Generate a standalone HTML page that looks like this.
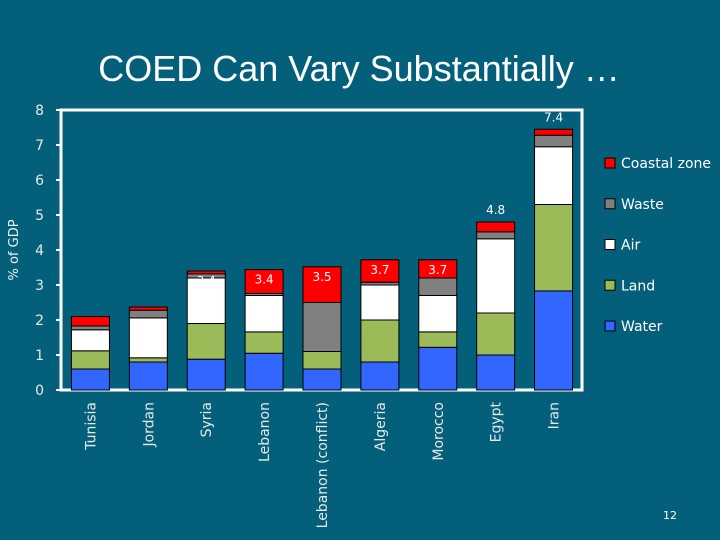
<!DOCTYPE html>
<html><head><meta charset="utf-8"><style>
html,body{margin:0;padding:0;background:#04607a;}
svg{display:block;font-family:"DejaVu Sans","Liberation Sans",sans-serif;}
</style></head><body>
<svg id="chart" width="720" height="540" xmlns="http://www.w3.org/2000/svg">
<rect x="0" y="0" width="720" height="540" fill="#04607a"/>
<text x="359" y="81" text-anchor="middle" fill="#fff" font-family="Liberation Sans, sans-serif" font-size="36">COED Can Vary Substantially …</text>
<text transform="translate(18,250) rotate(-90)" text-anchor="middle" fill="#eee" font-size="13">% of GDP</text>
<g id="plot"></g>
<text x="670" y="519" text-anchor="middle" fill="#fff" font-size="11">12</text>
</svg>
<script>
const categories=["Tunisia","Jordan","Syria","Lebanon","Lebanon (conflict)","Algeria","Morocco","Egypt","Iran"];
const water=[0.6,0.8,0.88,1.05,0.6,0.8,1.22,1.0,2.83];
const land=[0.52,0.12,1.02,0.61,0.5,1.2,0.44,1.2,2.47];
const air=[0.6,1.14,1.3,1.04,0,1.0,1.04,2.12,1.65];
const waste=[0.11,0.22,0.12,0.06,1.4,0.08,0.5,0.2,0.33];
const coastal=[0.27,0.09,0.08,0.68,1.02,0.64,0.52,0.28,0.17];
const totalLabels=["","","3.4","3.4","3.5","3.7","3.7","4.8","7.4"];
const yTicks=[0,1,2,3,4,5,6,7,8];
const seriesNames=["Coastal zone","Waste","Air","Land","Water"];

const NS="http://www.w3.org/2000/svg";
const plot=document.getElementById('plot');
const x0=61,x1=582,y0=390,yTop=110,yMax=8;
const band=(x1-x0)/categories.length;
const yS=v=>y0-(v/yMax)*(y0-yTop);
const xC=i=>x0+band*(i+0.5)+0.5;
const barW=38;
function mk(t,a){const e=document.createElementNS(NS,t);for(const k in a)e.setAttribute(k,a[k]);plot.appendChild(e);return e;}
let f=mk('rect',{x:x0,y:yTop,width:x1-x0,height:y0-yTop,fill:'none',stroke:'#fff','stroke-width':3});


yTicks.forEach(t=>{
  const l=mk('line',{x1:x0-5,x2:x0,y1:yS(t),y2:yS(t),stroke:'#fff','stroke-width':2});
  
  
  const tx=mk('text',{x:x0-17,y:yS(t)+5,'text-anchor':'end',fill:'#e8e8e8','font-size':14});
  
  
  tx.textContent=t;
});
const series=[water,land,air,waste,coastal];
const colors=["#3366ff","#9bbb59","#ffffff","#808080","#ff0000"];
const names=["water","land","air","waste","coastal"];
categories.forEach((c,i)=>{
  let cum=0;
  series.forEach((s,k)=>{
    const v=s[i];
    if(v>0){
      const r=mk('rect',{x:xC(i)-barW/2,y:yS(cum+v),width:barW,height:yS(cum)-yS(cum+v),fill:colors[k],stroke:'#000','stroke-width':1});
      
      
    }
    cum+=v;
  });
  if(totalLabels[i]){
    let ty=yS(cum)+14;
    if(i>=7) ty=yS(cum)-8;
    const t=mk('text',{x:xC(i),y:ty,'text-anchor':'middle',fill:'#fff','font-size':12});
    
    
    t.textContent=totalLabels[i];
  }
  const lab=mk('text',{transform:`translate(${xC(i)+5},402) rotate(-90)`,'text-anchor':'end',fill:'#e8e8e8','font-size':14});
  
  
  lab.textContent=c;
});
const legendColors=["#ff0000","#808080","#ffffff","#9bbb59","#3366ff"];
seriesNames.forEach((n,k)=>{
  const cy=163+k*40.75;
  const r=mk('rect',{x:605,y:cy-5,width:10,height:10,fill:legendColors[k],stroke:'#000','stroke-width':1});
  
  
  const t=mk('text',{x:621,y:cy+5,fill:'#fff','font-size':14});
  
  
  t.textContent=n;
});
</script>
</body></html>
